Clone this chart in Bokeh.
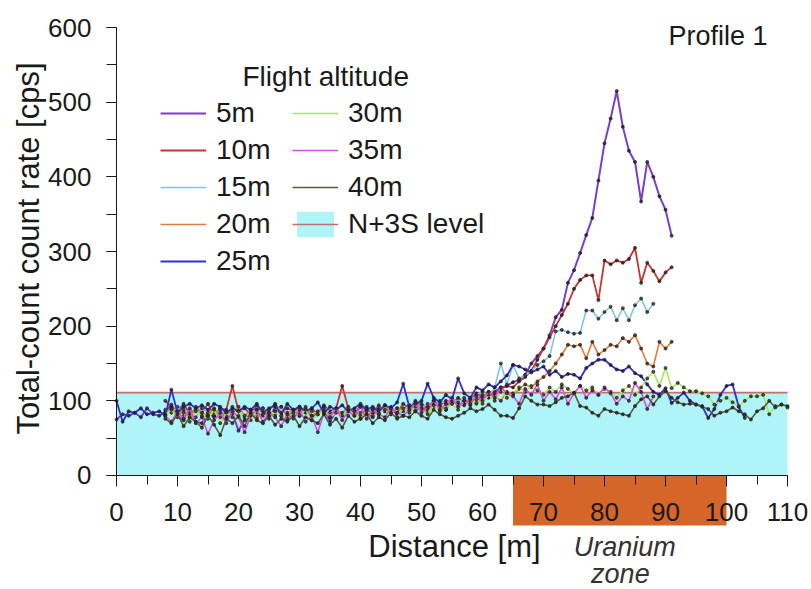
import math

from bokeh.plotting import figure
from bokeh.models import (Range1d, LinearAxis, SingleIntervalTicker, Legend,
                          LegendItem, Label)
from bokeh.embed import file_html
from bokeh.resources import INLINE

# ---- data: total-count rate [cps] along profile 1, one sample per metre ----
altitudes = ["5m", "10m", "15m", "20m", "25m", "30m", "35m", "40m"]

# first distance [m] of each flight line
start_5m, start_10m, start_15m, start_20m = 0, 8, 8, 8
start_25m, start_30m, start_35m, start_40m = 0, 8, 8, 8

rate_5m = [75, 82, 80, 84, 78, 90, 82, 80, 85, 95,
           80, 74, 88, 72, 70, 84, 78, 90, 76, 84,
           60, 74, 82, 78, 86, 76, 92, 80, 74, 86,
           80, 88, 78, 84, 90, 72, 86, 82, 88, 80,
           94, 84, 78, 90, 86, 92, 80, 88, 94, 86,
           96, 90, 100, 92, 88, 102, 96, 94, 104, 100,
           108, 104, 112, 118, 120, 125, 128, 135, 150, 160,
           170, 188, 212, 222, 258, 275, 298, 322, 345, 395,
           445, 478, 515, 467, 435, 420, 367, 420, 400, 374,
           356, 321]

rate_10m = [100, 92, 86, 96, 82, 90, 84, 96, 80, 90,
            88, 120, 86, 90, 82, 94, 80, 88, 96, 84,
            90, 86, 92, 84, 90, 82, 94, 86, 90, 120,
            90, 84, 92, 88, 84, 94, 86, 90, 84, 96,
            90, 100, 92, 88, 98, 94, 100, 96, 104, 98,
            102, 110, 106, 112, 108, 116, 120, 118, 126, 132,
            140, 155, 170, 185, 200, 215, 230, 250, 262, 268,
            268, 235, 288, 283, 288, 285, 290, 305, 258, 285,
            274, 260, 272, 279]

rate_15m = [88, 84, 92, 80, 86, 78, 90, 84, 82, 88,
            80, 92, 86, 78, 88, 84, 90, 82, 86, 92,
            84, 88, 80, 90, 86, 82, 92, 84, 88, 80,
            90, 86, 84, 92, 88, 82, 94, 88, 90, 86,
            94, 98, 90, 96, 92, 100, 96, 102, 98, 104,
            100, 108, 112, 106, 118, 150, 122, 148, 130, 134,
            140, 148, 153, 160, 193, 195, 192, 190, 191, 221,
            221, 210, 219, 226, 208, 224, 208, 228, 237, 219,
            230]

rate_20m = [84, 90, 80, 88, 76, 92, 84, 80, 90, 78,
            86, 82, 92, 80, 88, 76, 90, 84, 80, 92,
            78, 88, 84, 92, 80, 86, 90, 78, 88, 84,
            92, 86, 80, 90, 84, 88, 94, 82, 90, 88,
            86, 94, 90, 84, 96, 92, 88, 100, 94, 98,
            102, 96, 104, 110, 106, 100, 112, 108, 116, 122,
            118, 126, 132, 140, 150, 162, 175, 173, 175, 157,
            179, 162, 168, 175, 173, 184, 179, 188, 170, 150,
            146, 179, 170, 179]

rate_25m = [100, 72, 86, 84, 90, 82, 84, 86, 80, 115,
            84, 92, 96, 90, 94, 88, 96, 92, 84, 90,
            86, 92, 88, 96, 84, 90, 94, 82, 96, 88,
            92, 86, 90, 98, 84, 92, 88, 94, 86, 90,
            96, 88, 92, 86, 94, 90, 98, 123, 92, 96,
            100, 123, 104, 98, 108, 102, 130, 110, 104, 118,
            114, 122, 118, 126, 134, 148, 146, 142, 138, 142,
            146, 135, 140, 132, 136, 135, 130, 144, 150, 155,
            155, 148, 142, 140, 146, 137, 133, 122, 112, 108,
            117, 97, 104, 111, 100, 95, 93, 77, 89, 108,
            120, 122, 92, 77]

rate_30m = [82, 88, 78, 84, 72, 86, 80, 76, 88, 70,
            84, 78, 86, 80, 74, 88, 82, 78, 86, 80,
            76, 84, 80, 88, 74, 82, 86, 78, 84, 80,
            88, 82, 76, 86, 80, 84, 88, 82, 78, 90,
            84, 92, 88, 82, 94, 86, 90, 96, 88, 100,
            94, 102, 96, 108, 100, 112, 104, 110, 118, 112,
            120, 114, 108, 118, 112, 122, 116, 110, 120, 114,
            118, 108, 116, 112, 104, 114, 120, 108, 118, 130,
            139, 120, 144, 117, 124, 118, 113, 113, 110, 106,
            95, 100, 104, 98, 93, 100, 106, 106, 108, 82,
            93, 95, 91]

rate_35m = [80, 72, 86, 76, 90, 70, 78, 56, 74, 84,
            70, 86, 78, 58, 80, 88, 72, 84, 78, 66,
            82, 76, 88, 72, 80, 58, 84, 78, 90, 74,
            86, 80, 92, 76, 88, 82, 78, 90, 84, 80,
            88, 96, 84, 92, 100, 88, 96, 104, 92, 100,
            96, 106, 100, 112, 104, 118, 110, 106, 96, 116,
            108, 122, 100, 112, 102, 118, 96, 110, 120, 104,
            114, 108, 118, 110, 96, 106, 100, 124, 112, 89,
            106]

rate_40m = [76, 70, 82, 66, 78, 72, 64, 80, 68, 54,
            76, 70, 80, 66, 84, 74, 70, 80, 68, 76,
            72, 80, 66, 78, 74, 70, 82, 68, 76, 64,
            80, 72, 76, 82, 70, 78, 74, 84, 76, 80,
            78, 86, 80, 76, 88, 82, 78, 76, 80, 84,
            90, 86, 89, 95, 88, 80, 80, 77, 90, 106,
            100, 95, 95, 93, 98, 104, 106, 111, 93, 91,
            84, 80, 89, 86, 84, 82, 80, 93, 102, 106,
            95, 106, 113, 104, 98, 95, 96, 95, 92, 89,
            80, 84, 86, 91, 86, 82, 75, 86, 90, 100,
            91, 95, 93]

starts = [start_5m, start_10m, start_15m, start_20m,
          start_25m, start_30m, start_35m, start_40m]
rates = [rate_5m, rate_10m, rate_15m, rate_20m,
         rate_25m, rate_30m, rate_35m, rate_40m]

n3s_level = 111          # background N+3S threshold [cps]
profile_span = (0, 110)  # surveyed distance [m]
uranium_zone = (65, 100) # uranium zone extent [m]

# ---- styling ----
colors = ["#7B3FC9", "#C8352E", "#84C4E2", "#DE7C3C",
          "#2F2FD2", "#A8E65C", "#D64FE4", "#5C5A3C"]
widths = [2.0, 1.8, 1.6, 1.6, 1.8, 1.6, 1.6, 1.6]
FONT = "Liberation Sans"
INK = "#1a1a1a"

# the frame covers the whole canvas; axes sit at x=0 / y=0 inside it
p = figure(width=811, height=589,
           x_range=Range1d(-19.016, 113.93), y_range=Range1d(-152.7, 636.2),
           x_axis_type=None, y_axis_type=None,
           output_backend="svg", toolbar_location=None,
           min_border_left=0, min_border_right=0,
           min_border_top=0, min_border_bottom=0)
p.outline_line_color = None
p.background_fill_color = "white"

# uranium zone bar beneath the distance axis
p.quad(left=uranium_zone[0], right=uranium_zone[1], bottom=-67, top=0,
       fill_color="#D6652A", line_color=None)

# N+3S background band and level line
band = p.varea(x=list(profile_span), y1=[0, 0], y2=[n3s_level, n3s_level],
               fill_color="#AFF4F7")
level = p.line(x=list(profile_span), y=[n3s_level, n3s_level],
               line_color="#C46F68", line_width=1.6)

lines = {}
for name, start, vals, col, lw in zip(altitudes, starts, rates, colors, widths):
    xs = [start + i for i in range(len(vals))]
    lines[name] = p.line(xs, vals, line_color=col, line_width=lw)
    p.scatter(xs, vals, size=3, color="#202020", alpha=0.75)

# axes
xaxis = LinearAxis(ticker=SingleIntervalTicker(interval=10, num_minor_ticks=2),
                   fixed_location=0, bounds=profile_span)
yaxis = LinearAxis(ticker=SingleIntervalTicker(interval=100, num_minor_ticks=2),
                   fixed_location=0, bounds=(0, 600))
for ax in (xaxis, yaxis):
    ax.axis_line_color = INK
    ax.major_tick_line_color = INK
    ax.minor_tick_line_color = INK
    ax.major_tick_in = 0
    ax.minor_tick_in = 0
    ax.major_label_text_font = FONT
    ax.major_label_text_font_size = "26px"
    ax.major_label_text_color = INK
xaxis.major_tick_out = 11
xaxis.minor_tick_out = 9
xaxis.major_label_standoff = 17
yaxis.major_tick_out = 10
yaxis.minor_tick_out = 10
yaxis.major_label_standoff = 15
p.add_layout(xaxis, "below")
p.add_layout(yaxis, "left")

# axis titles
p.add_layout(Label(x=55.4, y=-95.1, text="Distance [m]", text_font=FONT,
                   text_font_size="31px", text_color=INK,
                   text_align="center", text_baseline="middle"))
p.add_layout(Label(x=-14.43, y=304, text="Total-count count rate [cps]",
                   angle=math.pi / 2, text_font=FONT, text_font_size="31px",
                   text_color=INK, text_align="center",
                   text_baseline="middle"))


def make_legend(entries, loc):
    leg = Legend(items=[LegendItem(label=n, renderers=r) for n, r in entries],
                 location=loc, orientation="vertical",
                 label_text_font=FONT, label_text_font_size="28px",
                 label_text_color=INK, glyph_width=46, glyph_height=32,
                 label_height=32, label_standoff=10, spacing=5,
                 padding=0, margin=0, border_line_color=None,
                 background_fill_alpha=0)
    p.add_layout(leg, "center")


make_legend([(n, [lines[n]]) for n in altitudes[:5]], (160, 312))
make_legend([(n, [lines[n]]) for n in altitudes[5:]] +
            [("N+3S level", [band, level])], (292, 349))

p.add_layout(Label(x=34.3, y=534.3, text="Flight altitude", text_font=FONT,
                   text_font_size="28px", text_color=INK,
                   text_align="center", text_baseline="alphabetic"))
p.add_layout(Label(x=90.5, y=589.2, text="Profile 1", text_font=FONT,
                   text_font_size="27px", text_color=INK,
                   text_align="left", text_baseline="alphabetic"))
p.add_layout(Label(x=83.3, y=-96.0, text="Uranium", text_font=FONT,
                   text_font_size="27px", text_font_style="italic",
                   text_color="#333333", text_align="center",
                   text_baseline="alphabetic"))
p.add_layout(Label(x=82.6, y=-131.5, text="zone", text_font=FONT,
                   text_font_size="27px", text_font_style="italic",
                   text_color="#333333", text_align="center",
                   text_baseline="alphabetic"))

open("out.html", "w").write(file_html(p, INLINE))
